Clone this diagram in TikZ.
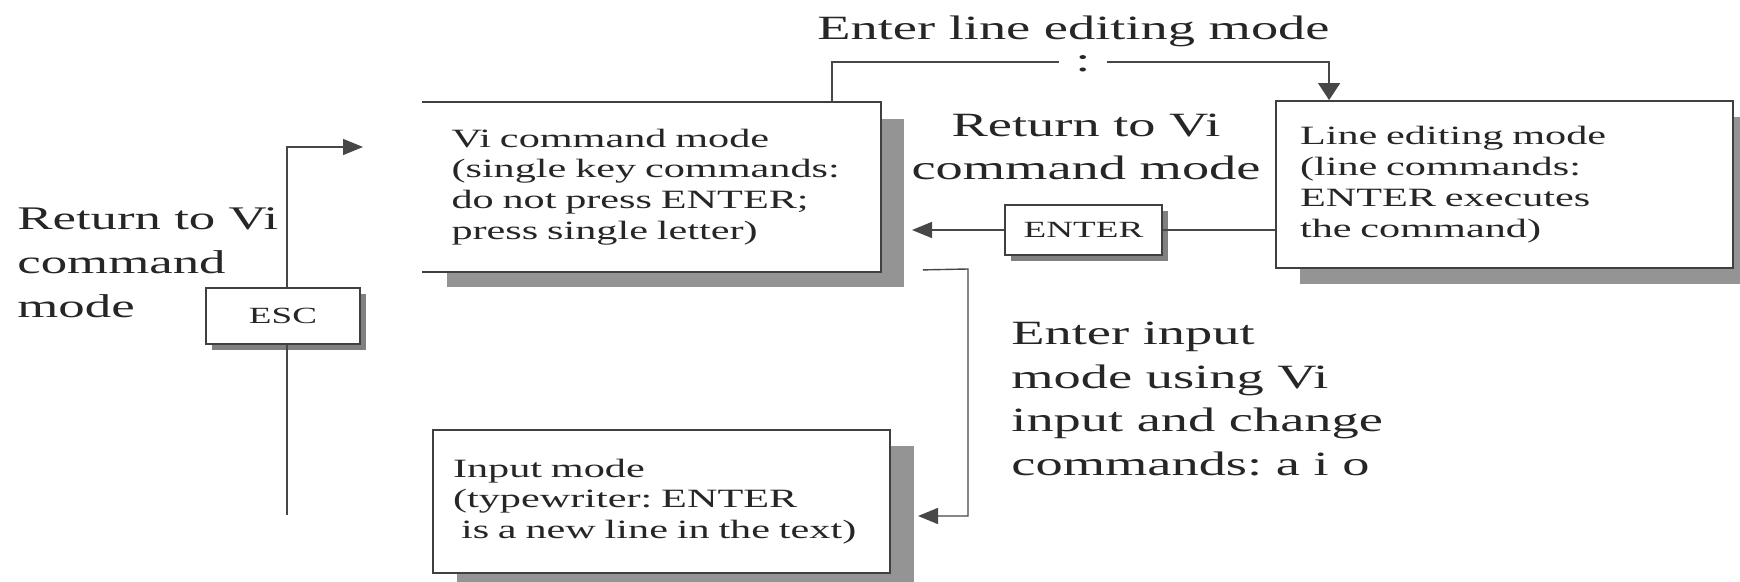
\documentclass[tikz,border=0pt]{standalone}
\usepackage{fontspec}
\setmainfont{Liberation Serif}[FakeStretch=1.6]
\usetikzlibrary{arrows.meta,shadows}

\begin{document}
\frenchspacing
\begin{tikzpicture}[x=0.5pt,y=-0.5pt,
  wire/.style={draw=black!72, line width=0.7pt},
  arr/.style={wire,-{Triangle[length=10pt,width=8pt]}},
  downarr/.style={wire,-{Triangle[length=8.5pt,width=11pt]}},
  modebox/.style={fill=white, line width=0.9pt, minimum width=228.5pt,
    align=left, text=black!85,
    font=\fontsize{13.2}{15.4}\selectfont,
    drop shadow={shadow xshift=12pt, shadow yshift=-8pt, fill=black!42, opacity=1}},
  keybox/.style={fill=white, draw=black!75, line width=0.8pt, align=center,
    text=black!85, inner sep=0pt, font=\fontsize{11.6}{14}\selectfont,
    drop shadow={shadow xshift=3pt, shadow yshift=-3pt, fill=black!50, opacity=1}},
  label/.style={inner sep=0pt, text=black!85, font=\fontsize{17}{21.7}\selectfont},
]
\useasboundingbox (0,0) rectangle (1740,582);

% the three modes
\node[modebox, minimum height=84pt, text width=200pt, inner xsep=14.25pt]
  (vi) at (651.5,187)
  {Vi command mode\\(single key commands:\\do not press ENTER;\\press single letter)};
\draw[black!75, line width=0.9pt] (vi.north west) -- (vi.north east)
  -- (vi.south east) -- (vi.south west);

\node[modebox, draw=black!75, minimum height=83.5pt, text width=204.5pt, inner xsep=12pt]
  (lineb) at (1504.5,184.5)
  {Line editing mode\\(line commands:\\ENTER executes\\the command)};

\node[modebox, draw=black!75, minimum height=71.5pt, text width=208.5pt, inner xsep=10pt]
  (input) at (661.5,501.5)
  {Input mode\\(typewriter: ENTER\\\hspace*{4pt}is a new line in the text)};

% keys
\node[keybox, minimum width=77pt, minimum height=28pt] (esc) at (283,316) {ESC};
\node[keybox, minimum width=78.5pt, minimum height=25pt] (enter) at (1083.5,230) {ENTER};

% labels
\node[label, anchor=north west, font=\fontsize{16.5}{22}\selectfont, align=left]
  (retleft) at (17,207.5) {Return to Vi\\command\\mode};
\node[label, anchor=north, align=center, font=\fontsize{17}{21.5}\selectfont]
  (retmid) at (1086,113.5) {Return to Vi\\command mode};
\node[label, anchor=north west] (enterline) at (817,16) {Enter line editing mode};
\node[label, anchor=north west, align=left, font=\fontsize{17}{21.8}\selectfont]
  (enterinput) at (1011,321.5)
  {Enter input\\mode using Vi\\input and change\\commands: a i o};

% Vi command mode -> line editing mode
\node[label, inner xsep=8pt] (colon) at (1083,64) {:};
\draw[wire] ([xshift=-24.5pt]vi.north east) |- ([yshift=1pt]colon.west);
\draw[downarr] ([yshift=1pt]colon.east) -| ([xshift=27pt]lineb.north west);

% line editing mode -> Vi command mode
\coordinate (enterTip) at (912,230);
\draw[wire] (lineb.west |- enter.east) -- (enter.east);
\draw[arr] (enter.west) -- (enterTip);

% Vi command mode -> input mode
\coordinate (inStart) at ([shift={(21pt,1pt)}]vi.south east);
\coordinate (inTip) at (918,516);
\draw[arr] (inStart) -- (968,269) |- (inTip);

% input mode -> Vi command mode
\coordinate (escBottom) at (287,515);
\coordinate (escTip) at (363,147);
\draw[wire] (escBottom) -- (escBottom |- esc.south);
\draw[arr] (escBottom |- esc.north) |- (escTip);
\end{tikzpicture}
\end{document}
